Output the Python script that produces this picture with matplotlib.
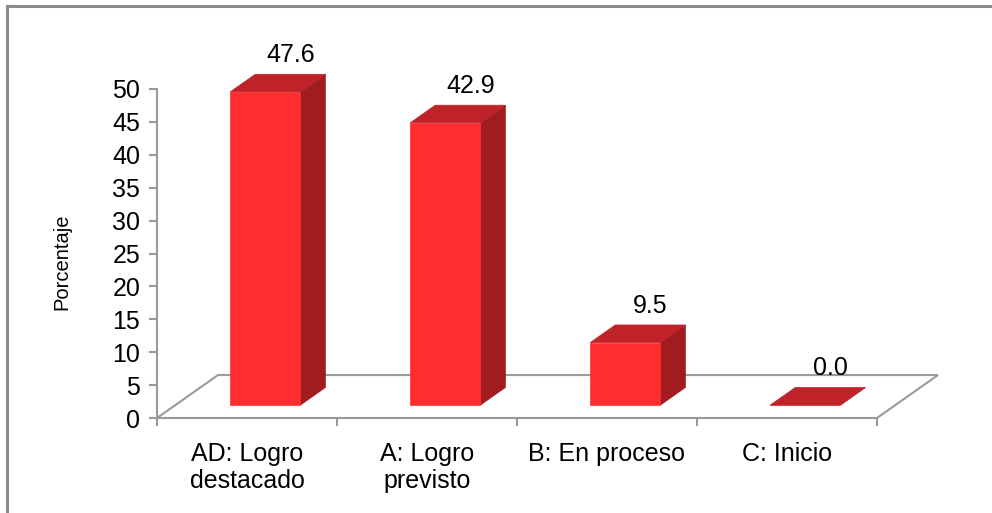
import matplotlib.pyplot as plt
from matplotlib.patches import Polygon
from matplotlib.lines import Line2D

categorias = ['AD: Logro\ndestacado', 'A: Logro\nprevisto', 'B: En proceso', 'C: Inicio']
porcentajes = [47.6, 42.9, 9.5, 0.0]
marcas_y = list(range(0, 55, 5))

plt.rcParams['font.family'] = ['Liberation Sans', 'DejaVu Sans']

# profundidad del piso 3d (en unidades de datos) y posicion de las barras dentro de ella
prof_x = 0.339
prof_y = 6.53
f0, f1 = 0.30, 0.71
ancho = 0.39

c_frente = '#ff2d2d'
c_tapa = '#c0222a'
c_lado = '#a11c1f'
c_eje = '#9a9a9a'

fig = plt.figure(figsize=(9.92, 5.13), dpi=100)
ax = fig.add_axes([157 / 992, 95 / 513, 781 / 992, 329 / 513])
ax.set_xlim(-0.5, 3.5 + prof_x)
ax.set_ylim(0, 50)

# piso
n = len(categorias)
piso = Polygon([(-0.5, 0), (n - 0.5, 0), (n - 0.5 + prof_x, prof_y), (-0.5 + prof_x, prof_y)],
               closed=True, facecolor='none', edgecolor=c_eje, lw=1.5, zorder=1, clip_on=False)
ax.add_patch(piso)

dx = (f1 - f0) * prof_x
dy = (f1 - f0) * prof_y
for i, v in enumerate(porcentajes):
    x0 = i - ancho / 2 + f0 * prof_x
    y0 = f0 * prof_y
    x1 = x0 + ancho
    frente = [(x0, y0), (x1, y0), (x1, y0 + v), (x0, y0 + v)]
    tapa = [(x0, y0 + v), (x1, y0 + v), (x1 + dx, y0 + v + dy), (x0 + dx, y0 + v + dy)]
    lado = [(x1, y0), (x1 + dx, y0 + dy), (x1 + dx, y0 + v + dy), (x1, y0 + v)]
    for pts, col in [(lado, c_lado), (frente, c_frente), (tapa, c_tapa)]:
        ax.add_patch(Polygon(pts, closed=True, facecolor=col, edgecolor=col, lw=0.5,
                             zorder=3, clip_on=False))
    ax.text(x0 + ancho / 2 + dx, y0 + v + dy + 2.9, f'{v:.1f}', ha='center', va='center',
            fontsize=18, color='black', zorder=4)

for s in ['top', 'right', 'bottom']:
    ax.spines[s].set_visible(False)
ax.spines['left'].set_color(c_eje)
ax.spines['left'].set_linewidth(1.5)

ax.set_yticks(marcas_y)
ax.tick_params(axis='y', direction='out', length=6, width=1.5, color=c_eje,
               labelsize=18, pad=6)
ax.set_xticks([i - 0.5 for i in range(n + 1)])
ax.set_xticklabels([])
ax.set_xticks(range(n), minor=True)
ax.set_xticklabels(categorias, minor=True, fontsize=18, linespacing=1.2, va='top')
ax.tick_params(axis='x', which='major', direction='out', length=6, width=1.5, color=c_eje)
ax.tick_params(axis='x', which='minor', length=0, pad=17)

fig.text(62 / 992, 1 - 262 / 513, 'Porcentaje', rotation=90, ha='center', va='center',
         fontsize=14.5)

# marco del grafico
fig.add_artist(Line2D([7 / 992, 1], [1 - 6 / 513, 1 - 6 / 513], transform=fig.transFigure,
                      color='#8c8c8c', lw=2.2))
fig.add_artist(Line2D([7 / 992, 7 / 992], [0, 1 - 6 / 513], transform=fig.transFigure,
                      color='#8c8c8c', lw=2.2))

fig.savefig('out.png', dpi=100)
